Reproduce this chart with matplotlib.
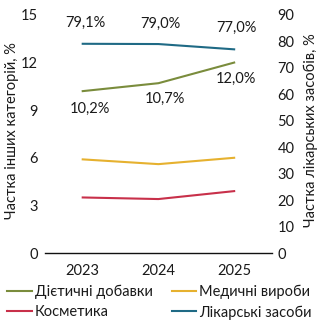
import matplotlib
matplotlib.use("Agg")
import matplotlib.pyplot as plt
from matplotlib.lines import Line2D

plt.rcParams['font.family'] = ['Lato', 'DejaVu Sans']

years = [2023, 2024, 2025]
dietary = [10.2, 10.7, 12.0]
medical = [5.9, 5.6, 6.0]
cosmetics = [3.5, 3.4, 3.9]
medicines = [79.1, 79.0, 77.0]

dietary_labels = ["10,2%", "10,7%", "12,0%"]
medicines_labels = ["79,1%", "79,0%", "77,0%"]

c_green = "#7a8c3c"
c_yellow = "#e6b12f"
c_red = "#c8304a"
c_blue = "#1f6a85"
txt = "#1a1a1a"
FS = 10.5

fig = plt.figure(figsize=(3.25, 3.25), dpi=100)
ax = fig.add_axes([0.138, 0.2215, 0.699, 0.7325])
ax2 = ax.twinx()

ax.plot(years, dietary, color=c_green, lw=1.5)
ax.plot(years, medical, color=c_yellow, lw=1.5)
ax.plot(years, cosmetics, color=c_red, lw=1.5)
ax2.plot(years, medicines, color=c_blue, lw=1.5)

ax.set_xlim(2022.5, 2025.5)
ax.set_ylim(0, 15)
ax2.set_ylim(0, 90)
ax.set_yticks([0, 3, 6, 9, 12, 15])
ax2.set_yticks(range(0, 91, 10))
ax.set_xticks(years)
ax.set_xticklabels([str(y) for y in years])

for a in (ax, ax2):
    for s in ("top", "right", "left", "bottom"):
        a.spines[s].set_visible(False)
    a.tick_params(length=0, labelsize=FS, colors=txt)
ax.spines["bottom"].set_visible(True)
ax.spines["bottom"].set_color("#111111")
ax.spines["bottom"].set_linewidth(1.0)
ax.tick_params(axis="x", pad=8)
ax.tick_params(axis="y", pad=5)
ax2.tick_params(axis="y", pad=4)

ax.set_ylabel("Частка інших категорій, %", fontsize=FS, color=txt)
ax2.set_ylabel("Частка лікарських засобів, %", fontsize=FS, color=txt)
ax.yaxis.set_label_coords(-0.112, 0.515)
ax2.yaxis.set_label_coords(1.14, 0.515)

dx_d = [0.1, 0.08, 0.03]
offsets_d = [-1.1, -1.0, -1.05]
for x, y, t, o, dx in zip(years, dietary, dietary_labels, offsets_d, dx_d):
    ax.text(x + dx, y + o, t, ha="center", va="center", fontsize=FS, color=txt)
dx_m = [0.04, 0.03, 0.03]
offsets_m = [7.8, 7.8, 8.0]
for x, y, t, o, dx in zip(years, medicines, medicines_labels, offsets_m, dx_m):
    ax2.text(x + dx, y + o, t, ha="center", va="center", fontsize=FS, color=txt)

handles = [
    Line2D([], [], color=c_green, lw=1.5),
    Line2D([], [], color=c_red, lw=1.5),
    Line2D([], [], color=c_yellow, lw=1.5),
    Line2D([], [], color=c_blue, lw=1.5),
]
labels = ["Дієтичні добавки", "Косметика", "Медичні вироби", "Лікарські засоби"]
fig.legend(handles, labels, ncol=2, loc="lower left", bbox_to_anchor=(-0.005, -0.01),
           frameon=False, fontsize=FS, handlelength=1.7, handletextpad=0.2,
           columnspacing=1.3, labelspacing=0.4, borderaxespad=0.2,
           labelcolor=txt)

fig.savefig("out.png", dpi=100)
